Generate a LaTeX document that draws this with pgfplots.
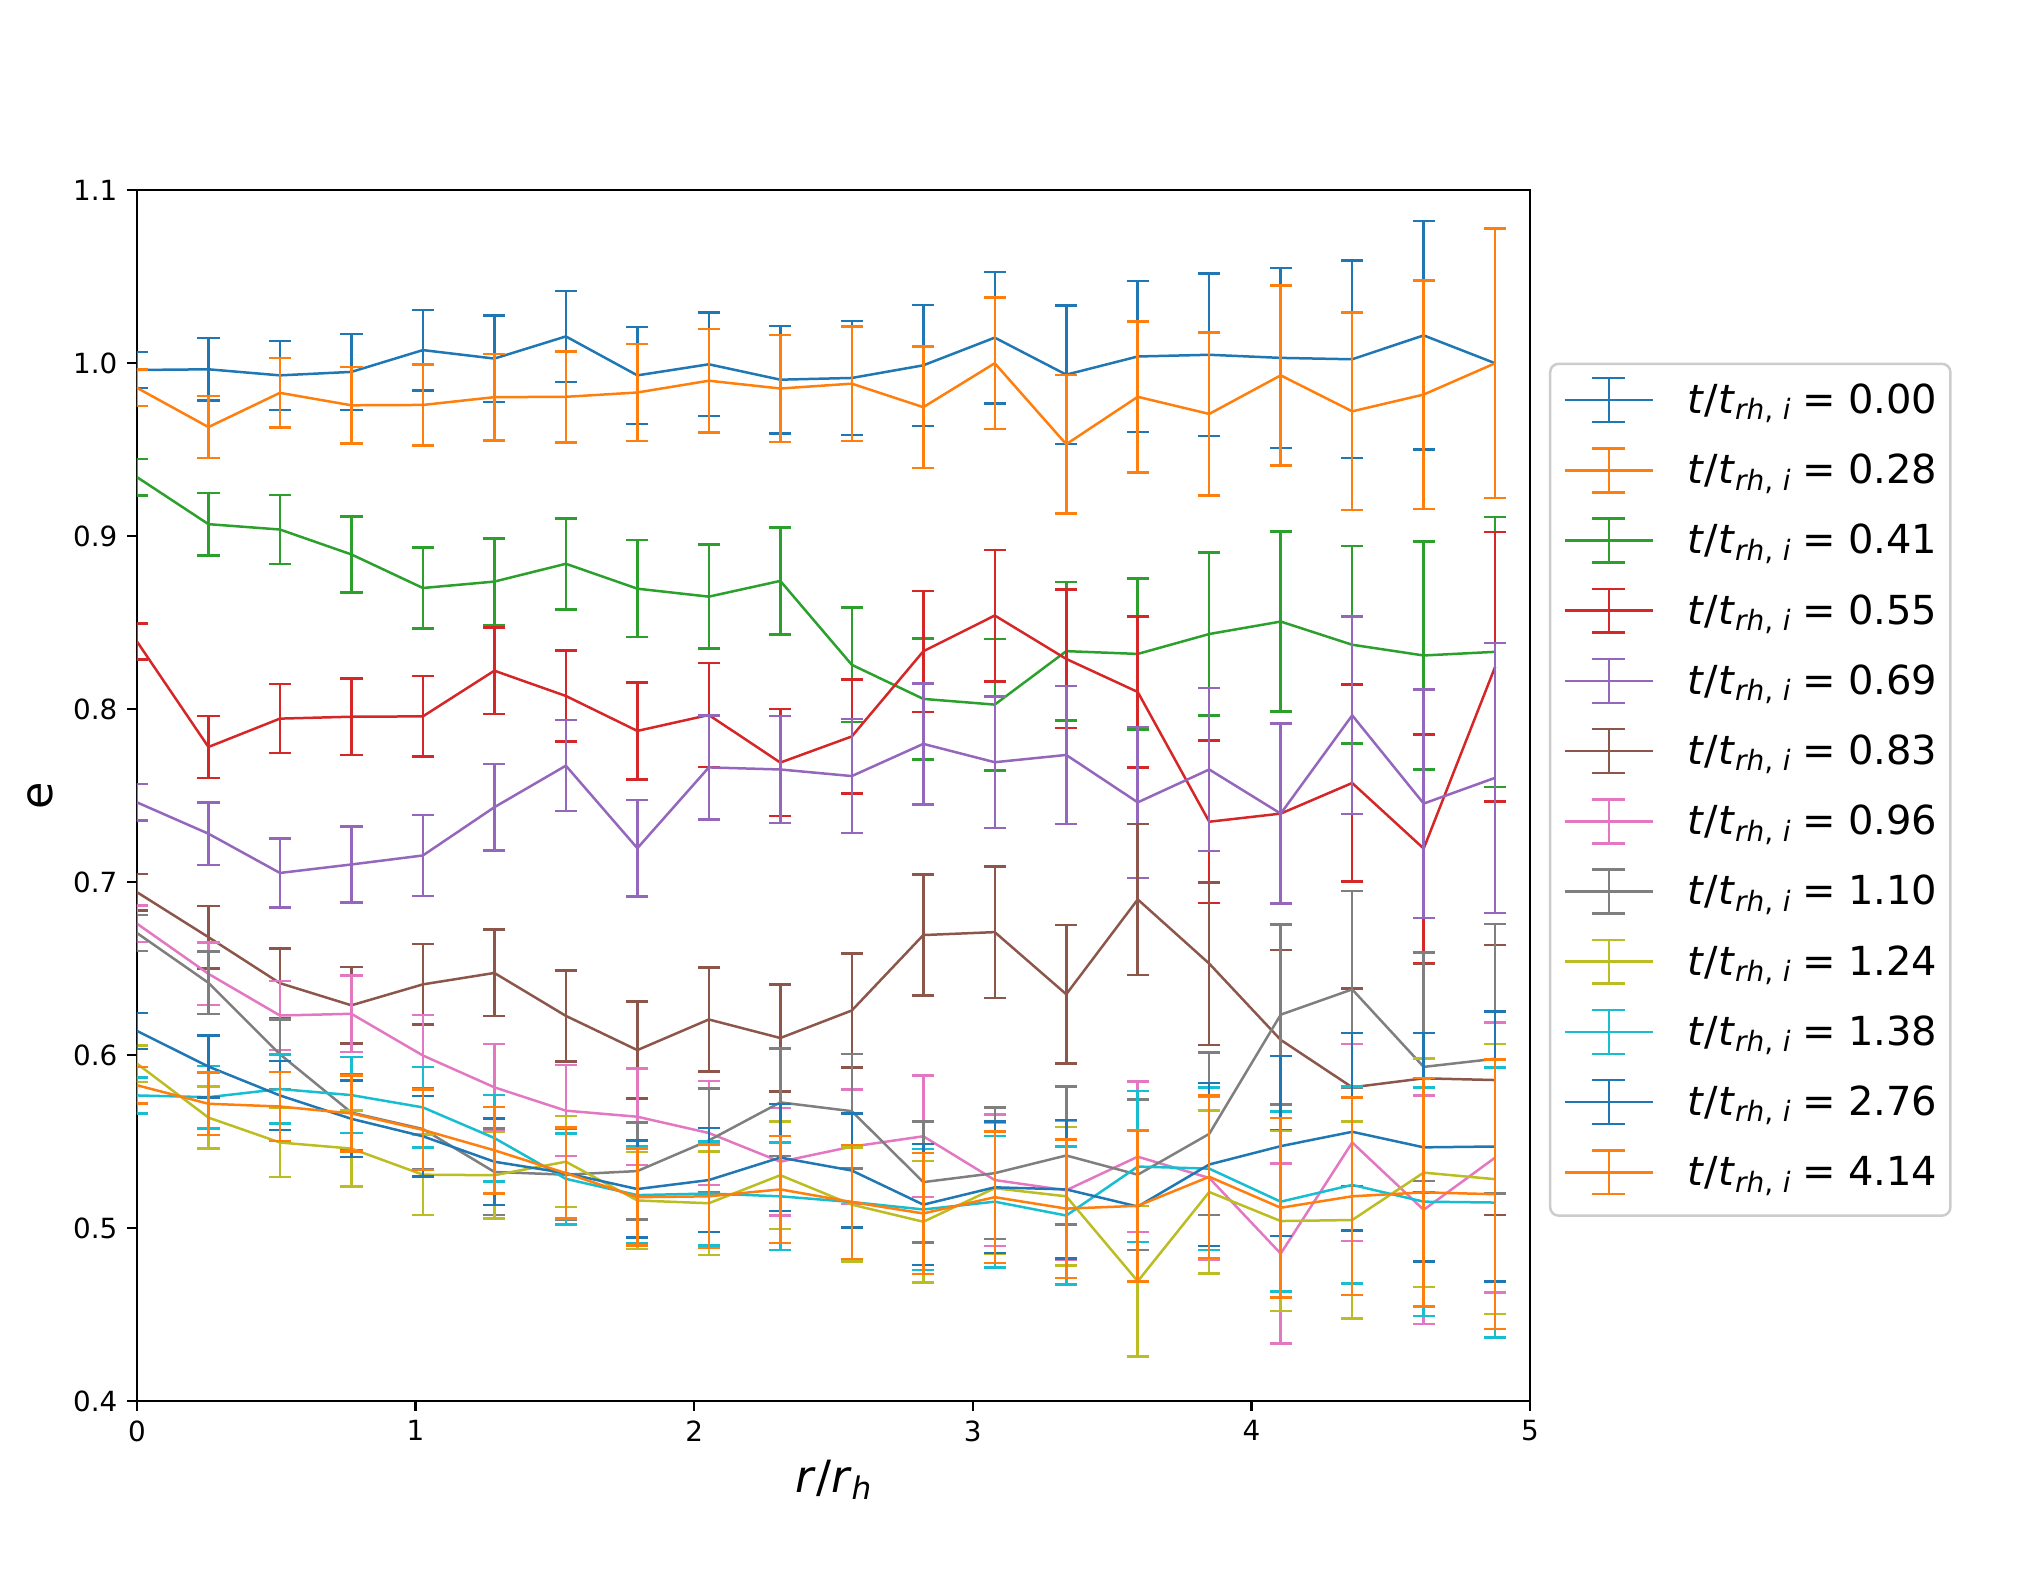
\documentclass[border=0pt]{standalone}
\usepackage{fontspec}
\setmainfont{DejaVu Sans}
\usepackage{pgfplots}
\usepackage{pgfplotstable}
\pgfplotsset{compat=1.18}
\definecolor{c0}{HTML}{1F77B4}
\definecolor{c1}{HTML}{FF7F0E}
\definecolor{c2}{HTML}{2CA02C}
\definecolor{c3}{HTML}{D62728}
\definecolor{c4}{HTML}{9467BD}
\definecolor{c5}{HTML}{8C564B}
\definecolor{c6}{HTML}{E377C2}
\definecolor{c7}{HTML}{7F7F7F}
\definecolor{c8}{HTML}{BCBD22}
\definecolor{c9}{HTML}{17BECF}
\newcommand{\lab}[1]{\textit{t}/\textit{t}\raisebox{-2.3pt}{\fontsize{10.08}{11}\selectfont\textit{rh},\hspace{0.35em}\textit{i}}\hspace{0.3em}=\hspace{0.3em}#1\hspace{2.5pt}}
\pgfplotstableread{
x e s0 s1 s2 s3 s4 s5 s6 s7 s8 s9 s10 s11
0.0000 0.0105 0.9959 0.9856 0.9340 0.8390 0.7460 0.6941 0.6759 0.6705 0.5950 0.5766 0.6139 0.5825
0.2566 0.0180 0.9963 0.9629 0.9068 0.7780 0.7279 0.6681 0.6469 0.6417 0.5638 0.5756 0.5933 0.5718
0.5132 0.0200 0.9928 0.9827 0.9037 0.7944 0.7052 0.6415 0.6228 0.6004 0.5494 0.5803 0.5766 0.5702
0.7697 0.0220 0.9948 0.9755 0.8893 0.7955 0.7101 0.6287 0.6238 0.5667 0.5459 0.5768 0.5631 0.5662
1.0263 0.0233 1.0074 0.9757 0.8699 0.7957 0.7153 0.6408 0.5997 0.5572 0.5308 0.5697 0.5530 0.5567
1.2829 0.0250 1.0025 0.9802 0.8736 0.8221 0.7432 0.6474 0.5813 0.5324 0.5305 0.5520 0.5383 0.5449
1.5395 0.0263 1.0153 0.9804 0.8839 0.8075 0.7672 0.6226 0.5678 0.5308 0.5383 0.5284 0.5317 0.5317
1.7961 0.0280 0.9928 0.9829 0.8695 0.7873 0.7195 0.6028 0.5643 0.5329 0.5159 0.5190 0.5225 0.5178
2.0526 0.0300 0.9992 0.9897 0.8649 0.7965 0.7662 0.6205 0.5549 0.5506 0.5143 0.5199 0.5277 0.5183
2.3092 0.0310 0.9903 0.9852 0.8740 0.7690 0.7650 0.6098 0.5383 0.5726 0.5305 0.5183 0.5407 0.5223
2.5658 0.0330 0.9913 0.9880 0.8255 0.7841 0.7612 0.6257 0.5470 0.5675 0.5135 0.5150 0.5332 0.5150
2.8224 0.0350 0.9986 0.9744 0.8058 0.8333 0.7798 0.6693 0.5530 0.5265 0.5036 0.5107 0.5135 0.5084
3.0789 0.0380 1.0146 0.9998 0.8025 0.8540 0.7692 0.6710 0.5277 0.5317 0.5230 0.5152 0.5235 0.5178
3.3355 0.0400 0.9932 0.9530 0.8334 0.8289 0.7734 0.6351 0.5218 0.5419 0.5183 0.5072 0.5223 0.5112
3.5921 0.0436 1.0037 0.9804 0.8318 0.8098 0.7460 0.6899 0.5412 0.5308 0.4692 0.5355 0.5124 0.5128
3.8487 0.0470 1.0047 0.9705 0.8433 0.7348 0.7650 0.6528 0.5289 0.5544 0.5208 0.5343 0.5367 0.5296
4.1053 0.0520 1.0029 0.9928 0.8505 0.7395 0.7395 0.6087 0.4852 0.6233 0.5040 0.5152 0.5473 0.5117
4.3618 0.0570 1.0021 0.9720 0.8371 0.7572 0.7963 0.5813 0.5494 0.6379 0.5046 0.5249 0.5556 0.5183
4.6184 0.0660 1.0159 0.9817 0.8309 0.7193 0.7453 0.5865 0.5105 0.5931 0.5320 0.5152 0.5466 0.5206
4.8750 0.0780 0.9998 0.9998 0.8330 0.8244 0.7602 0.5855 0.5407 0.5978 0.5282 0.5147 0.5471 0.5195
}\data
\pgfplotsset{
  eb/.style={line width=0.9pt, mark=none,
    error bars/.cd, y dir=both, y explicit,
    error bar style={line width=0.9pt},
    error mark options={rotate=90, mark size=4pt, line width=0.9pt}},
}
\begin{document}
\begin{tikzpicture}
\path[use as bounding box] (0,0) rectangle (730.44pt,567.36pt);
\begin{axis}[
  scale only axis, width=501.5pt, height=436pt,
  at={(49.3pt,63pt)}, anchor=south west,
  xmin=0, xmax=5, ymin=0.4, ymax=1.1,
  xtick={0,1,2,3,4,5},
  ytick={0.4,0.5,0.6,0.7,0.8,0.9,1.0,1.1},
  yticklabel style={/pgf/number format/.cd, fixed, fixed zerofill, precision=1},
  /pgf/number format/assume math mode=true,
  tick label style={font=\fontsize{10}{12}\selectfont},
  tick align=outside, tick pos=left, major tick length=3.5pt,
  every tick/.append style={black, line width=0.8pt},
  axis line style={line width=0.8pt},
  xlabel={\fontsize{16}{19}\selectfont\textit{r}/\textit{r}\raisebox{-2.4pt}{\fontsize{11.2}{12}\selectfont\textit{h}}},
  ylabel={\fontsize{16}{19}\selectfont e},
  xlabel style={at={(axis description cs:0.5,-0.0757)}, anchor=base, inner sep=0pt},
  ylabel style={at={(axis description cs:-0.0692,0.5)}, anchor=center, inner sep=0pt},
  legend image code/.code={
    \draw[#1, line width=0.9pt] (0pt,0pt) -- (31.9pt,0pt);
    \draw[#1, line width=0.9pt] (15.95pt,-7.9pt) -- (15.95pt,7.9pt);
    \draw[#1, line width=0.9pt] (9.95pt,-7.9pt) -- (21.95pt,-7.9pt);
    \draw[#1, line width=0.9pt] (9.95pt,7.9pt) -- (21.95pt,7.9pt);
  },
  legend cell align=left,
  legend style={at={(axis description cs:1.0136,0.8574)}, anchor=north west,
    draw=black!20, line width=0.9pt, fill=white, rounded corners=3pt,
    inner xsep=4.7pt, inner ysep=4.07pt,
    column sep=12pt, row sep=7.27pt,
    font=\fontsize{14.4}{17}\selectfont,
    nodes={inner sep=0pt, text height=13.8pt, text depth=4.2pt}},
]
\addplot[c0, eb] table[x=x, y=s0, y error=e] {\data};
\addlegendentry{\lab{0.00}}
\addplot[c1, eb] table[x=x, y=s1, y error=e] {\data};
\addlegendentry{\lab{0.28}}
\addplot[c2, eb] table[x=x, y=s2, y error=e] {\data};
\addlegendentry{\lab{0.41}}
\addplot[c3, eb] table[x=x, y=s3, y error=e] {\data};
\addlegendentry{\lab{0.55}}
\addplot[c4, eb] table[x=x, y=s4, y error=e] {\data};
\addlegendentry{\lab{0.69}}
\addplot[c5, eb] table[x=x, y=s5, y error=e] {\data};
\addlegendentry{\lab{0.83}}
\addplot[c6, eb] table[x=x, y=s6, y error=e] {\data};
\addlegendentry{\lab{0.96}}
\addplot[c7, eb] table[x=x, y=s7, y error=e] {\data};
\addlegendentry{\lab{1.10}}
\addplot[c8, eb] table[x=x, y=s8, y error=e] {\data};
\addlegendentry{\lab{1.24}}
\addplot[c9, eb] table[x=x, y=s9, y error=e] {\data};
\addlegendentry{\lab{1.38}}
\addplot[c0, eb] table[x=x, y=s10, y error=e] {\data};
\addlegendentry{\lab{2.76}}
\addplot[c1, legend image code/.code={
    \path[draw=none, fill=none] (0pt,-11.53pt);
    \draw[c1, line width=0.9pt] (0pt,0pt) -- (31.9pt,0pt);
    \draw[c1, line width=0.9pt] (15.95pt,-7.9pt) -- (15.95pt,7.9pt);
    \draw[c1, line width=0.9pt] (9.95pt,-7.9pt) -- (21.95pt,-7.9pt);
    \draw[c1, line width=0.9pt] (9.95pt,7.9pt) -- (21.95pt,7.9pt);
  }, eb] table[x=x, y=s11, y error=e] {\data};
\addlegendentry{\lab{4.14}}
\end{axis}
\end{tikzpicture}
\end{document}
